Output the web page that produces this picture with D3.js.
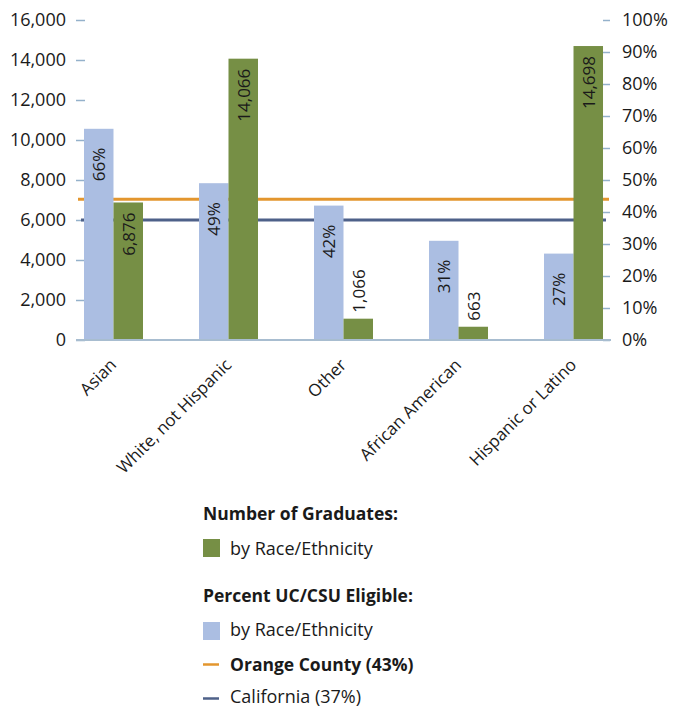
<!DOCTYPE html>
<html>
<head>
<meta charset="utf-8">
<script src="https://cdn.jsdelivr.net/npm/d3@7"></script>
<style>
  body { margin: 0; background: #fff; }
  text { font-family: "Open Sans", sans-serif; fill: #1a1a1a; }
</style>
</head>
<body>
<svg class="chart"></svg>
<script>
let categories   = ["Asian", "White, not Hispanic", "Other", "African American", "Hispanic or Latino"];
let graduates    = [6876, 14066, 1066, 663, 14698];
let eligible     = [66, 49, 42, 31, 27];
let countyLine   = 44;    // drawn a little above the 43% in the legend
let stateLine    = 37.5;
let countTicks   = [0, 2000, 4000, 6000, 8000, 10000, 12000, 14000, 16000];
let percentTicks = [0, 10, 20, 30, 40, 50, 60, 70, 80, 90, 100];

let width  = 686;
let height = 708;
let svg    = d3.select(".chart").attr("width", width).attr("height", height);

let blue   = "#abbee2";
let green  = "#768f45";
let orange = "#e3962e";
let slate  = "#4e6189";
let tickC  = "#94b1cb";

let x    = d3.scalePoint().domain(categories).range([76, 611]).padding(0.326);
let y    = d3.scaleLinear().domain([0, 16000]).range([340, 20]);
let yPct = d3.scaleLinear().domain([0, 100]).range([340, 20]);
let barW = 29.5;

// left axis
let left = svg.append("g").attr("transform", "translate(85,0)")
  .call(d3.axisLeft(y).tickValues(countTicks).tickSize(9).tickPadding(10).tickFormat(d3.format(",")));
left.select(".domain").remove();
left.selectAll(".tick line").attr("stroke", tickC).attr("stroke-width", 1.5);
left.selectAll(".tick text").style("font-size", "18px").style("font-weight", 500);

// right axis
let right = svg.append("g").attr("transform", "translate(603,0)")
  .call(d3.axisRight(yPct).tickValues(percentTicks).tickSize(7).tickPadding(12).tickFormat(d => d + "%"));
right.select(".domain").remove();
right.selectAll(".tick line").attr("stroke", tickC).attr("stroke-width", 1.5);
right.selectAll(".tick text").style("font-size", "18px").style("font-weight", 500);

// reference lines (sit behind the bars)
svg.append("line")
  .attr("x1", 78).attr("x2", 609)
  .attr("y1", yPct(countyLine)).attr("y2", yPct(countyLine))
  .attr("stroke", orange).attr("stroke-width", 3);
svg.append("line")
  .attr("x1", 81).attr("x2", 606)
  .attr("y1", yPct(stateLine)).attr("y2", yPct(stateLine))
  .attr("stroke", slate).attr("stroke-width", 3);

// bars
svg.selectAll(".pct").data(eligible).enter().append("rect")
  .attr("class", "pct")
  .attr("x", (d, i) => x(categories[i]) - barW)
  .attr("y", d => yPct(d))
  .attr("width", barW)
  .attr("height", d => yPct(0) - yPct(d))
  .attr("fill", blue);

svg.selectAll(".grad").data(graduates).enter().append("rect")
  .attr("class", "grad")
  .attr("x", (d, i) => x(categories[i]))
  .attr("y", d => y(d))
  .attr("width", barW)
  .attr("height", d => y(0) - y(d))
  .attr("fill", green);

// baseline
svg.append("line")
  .attr("x1", 76).attr("x2", 611)
  .attr("y1", y(0)).attr("y2", y(0))
  .attr("stroke", "#a8bdd0").attr("stroke-width", 2);

// value labels
svg.selectAll(".pctLabel").data(eligible).enter().append("text")
  .attr("transform", (d, i) => "translate(" + (x(categories[i]) - barW / 2) + "," + (yPct(d) + 19) + ") rotate(-90)")
  .attr("text-anchor", "end")
  .attr("dominant-baseline", "central")
  .style("font-size", "17px")
  .text(d => d + "%");

svg.selectAll(".gradLabel").data(graduates).enter().append("text")
  .attr("transform", (d, i) => {
    let inside = y(0) - y(d) > 60;
    let ty = inside ? y(d) + 10 : y(d) - 6;
    return "translate(" + (x(categories[i]) + barW / 2) + "," + ty + ") rotate(-90)";
  })
  .attr("text-anchor", d => (y(0) - y(d) > 60 ? "end" : "start"))
  .attr("dominant-baseline", "central")
  .style("font-size", "17px")
  .text(d => d3.format(",")(d));

// category labels
svg.selectAll(".cat").data(categories).enter().append("text")
  .attr("transform", d => "translate(" + (x(d) + 4) + ",366) rotate(-45)")
  .attr("text-anchor", "end")
  .style("font-size", "17px")
  .text(d => d);

// legend
let lg = svg.append("g").attr("transform", "translate(203,0)");
lg.append("text").attr("x", 0).attr("y", 520).style("font-size", "17.5px").style("font-weight", "bold").text("Number of Graduates:");
lg.append("rect").attr("x", 0).attr("y", 539).attr("width", 17).attr("height", 18).attr("fill", green);
lg.append("text").attr("x", 27).attr("y", 555).style("font-size", "18px").text("by Race/Ethnicity");
lg.append("text").attr("x", 0).attr("y", 602).style("font-size", "17.5px").style("font-weight", "bold").text("Percent UC/CSU Eligible:");
lg.append("rect").attr("x", 0).attr("y", 622).attr("width", 17).attr("height", 18).attr("fill", blue);
lg.append("text").attr("x", 27).attr("y", 636).style("font-size", "18px").text("by Race/Ethnicity");
lg.append("line").attr("x1", 0).attr("x2", 16).attr("y1", 664.5).attr("y2", 664.5).attr("stroke", orange).attr("stroke-width", 2.5);
lg.append("text").attr("x", 27).attr("y", 671).style("font-size", "17.5px").style("font-weight", "bold").text("Orange County (43%)");
lg.append("line").attr("x1", 0).attr("x2", 16).attr("y1", 698.5).attr("y2", 698.5).attr("stroke", slate).attr("stroke-width", 2.5);
lg.append("text").attr("x", 27).attr("y", 703).style("font-size", "18px").text("California (37%)");
</script>
</body>
</html>
